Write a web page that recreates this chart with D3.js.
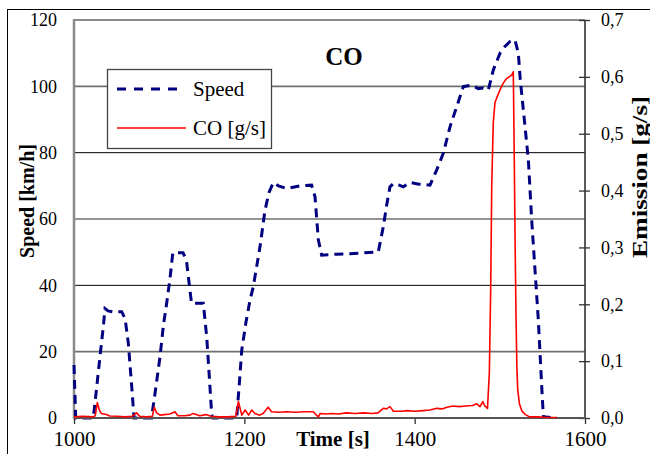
<!DOCTYPE html>
<html><head><meta charset="utf-8">
<script src="https://cdn.jsdelivr.net/npm/d3@7/dist/d3.min.js"></script>
<style>body{margin:0;background:#fff}svg{display:block}text{font-family:"Liberation Serif","Times New Roman",serif}</style>
</head><body>
<svg id="c" width="650" height="454"></svg>
<script>
const speedTime = [1000,1002,1022.7,1026.7,1030.5,1034.4,1036.4,1040,1046,1056,1060,1063.8,1067.8,1070.5,1091,1096,1101,1105,1108.8,1112.7,1116,1128,1132,1135,1138,1151.8,1155.8,1159,1161.7,1163,1191,1194,1197,1202,1206.7,1210.5,1218.4,1224.3,1229,1234,1240,1249.8,1265,1279,1283,1286.9,1290.8,1308.4,1324,1340,1357.3,1363.2,1367,1371,1375,1381,1386.7,1394.5,1405,1418,1425.9,1433.6,1441.5,1449.4,1457.1,1467,1474.7,1480,1486.5,1492.3,1500.2,1506,1511.9,1517.8,1521.7,1524,1527.6,1533.5,1537.4,1541.3,1545.2,1549.2,1551.1,1567];
const speedValues = [16,0,0,9.4,18.5,27.5,33,32.3,32,32,30,22.5,9.4,0,0,9,18.5,28,34.6,42,49.8,49.8,47.6,41,34.6,34.6,24.5,12,1,0,0,10,20.5,29,35.6,39.6,51.6,62.7,68,71,70,69.2,70,70.2,66.7,53.7,49.1,49.4,49.5,49.8,50.1,57.7,64,69.7,70.7,70.3,69.7,71,70.5,70.2,74.8,79.8,87.8,93.9,99.9,100.4,99.3,99.5,98.9,104.9,110,112,113.5,114,110,102,92.9,77.8,59.7,44.6,29.5,9.4,0.4,0];
const coTime = [1000,1010,1022,1025,1027.4,1029.7,1032,1038,1042,1050,1060,1068,1073.6,1077,1085,1092,1094.3,1097,1101,1106,1112.7,1118.6,1122,1130,1136,1140,1147.6,1155,1161,1170,1180,1190,1193,1197,1201,1205,1208.6,1212.5,1218,1222,1228,1232,1240,1250,1260,1270,1281,1284,1287,1289,1296,1303,1310,1320,1330,1340,1350,1357,1363,1367,1371,1375,1385,1391,1400,1410,1418,1426,1432,1438,1445,1452,1460,1468,1473,1476.7,1480,1482,1485.5,1487.7,1489.3,1490.5,1492.3,1494.3,1498.2,1500.2,1504,1508,1514,1515.8,1517,1518,1519,1520,1521,1523,1526,1530,1535,1545,1555,1567];
const coValues = [0.002,0.003,0.002,0.004,0.027,0.014,0.008,0.006,0.0035,0.003,0.002,0.003,0.009,0.003,0.002,0.003,0.019,0.009,0.005,0.006,0.007,0.011,0.004,0.004,0.005,0.008,0.004,0.006,0.003,0.002,0.002,0.003,0.029,0.005,0.014,0.005,0.014,0.008,0.005,0.008,0.019,0.011,0.010,0.011,0.010,0.011,0.011,0.006,0.002,0.008,0.007,0.008,0.007,0.009,0.008,0.009,0.008,0.009,0.017,0.016,0.020,0.012,0.012,0.013,0.012,0.013,0.014,0.017,0.016,0.019,0.021,0.020,0.021,0.022,0.025,0.020,0.029,0.022,0.017,0.08,0.23,0.41,0.52,0.555,0.57,0.577,0.589,0.597,0.603,0.609,0.45,0.30,0.18,0.09,0.05,0.025,0.012,0.006,0.002,0.002,0.001,0.001];
const xTicks = [1000,1200,1400,1600];
const speedTicks = [0,20,40,60,80,100,120];
const emissionTicks = [0,0.1,0.2,0.3,0.4,0.5,0.6,0.7];
const title = "CO";
const seriesNames = ["Speed","CO [g/s]"];

const svg = d3.select("#c");
const L=74,R=585,T=20,B=418;
const x = d3.scaleLinear().domain([1000,1600]).range([L,R]);
const yL = d3.scaleLinear().domain([0,120]).range([B,T]);
const yR = d3.scaleLinear().domain([0,0.7]).range([B,T]);

// outer frame
svg.append("rect").attr("x",7.5).attr("y",9.5).attr("width",700).attr("height",500).attr("fill","none").attr("stroke","#000").attr("stroke-width",1);

// gridlines
svg.append("g").selectAll("line").data(speedTicks.filter(d=>d>0&&d<120)).join("line")
  .attr("x1",L).attr("x2",R).attr("y1",d=>yL(d)).attr("y2",d=>yL(d))
  .attr("stroke",(d,i)=> (d/20)%2===0 ? "#000" : "#707070").attr("stroke-width",(d)=> (d/20)%2===0 ? 1 : 1.6);

// top border
svg.append("line").attr("x1",L).attr("x2",R).attr("y1",T).attr("y2",T).attr("stroke","#8a8a8a").attr("stroke-width",2);

// left axis
const gl = svg.append("g").attr("transform",`translate(${L},0)`)
  .call(d3.axisLeft(yL).tickValues(speedTicks).tickSize(0).tickPadding(17));
gl.select(".domain").remove();
gl.selectAll("text").attr("font-size",18).attr("fill","#000").style("font-family","Liberation Serif");

// right axis
const gr = svg.append("g").attr("transform",`translate(${R},0)`)
  .call(d3.axisRight(yR).tickValues(emissionTicks).tickSize(5).tickPadding(11).tickFormat(d=>d.toFixed(1).replace(".",",")));
gr.select(".domain").remove();
gr.selectAll(".tick line").attr("x1",-6).attr("x2",5).attr("stroke","#333").attr("stroke-width",1.3);
gr.selectAll("text").attr("font-size",18).attr("fill","#000").style("font-family","Liberation Serif");
svg.append("line").attr("x1",R).attr("x2",R).attr("y1",T).attr("y2",B).attr("stroke","#333").attr("stroke-width",1.6);

// bottom axis
const gb = svg.append("g").attr("transform",`translate(0,${B})`)
  .call(d3.axisBottom(x).tickValues(xTicks).tickSize(6).tickPadding(7).tickFormat(d3.format("d")));
gb.select(".domain").remove();
gb.selectAll(".tick line").attr("stroke","#333").attr("stroke-width",1.3);
gb.selectAll("text").attr("font-size",21).attr("fill","#000").style("font-family","Liberation Serif");

// left axis line
svg.append("line").attr("x1",L).attr("x2",L).attr("y1",T-1).attr("y2",B+1).attr("stroke","#8a8a8a").attr("stroke-width",2.5);

// data lines
const speedData = speedTime.map((t,i)=>[t,speedValues[i]]);
const coData = coTime.map((t,i)=>[t,coValues[i]]);
svg.append("path").datum(speedData)
  .attr("d",d3.line().x(d=>x(d[0])).y(d=>yL(d[1])))
  .attr("fill","none").attr("stroke","#000080").attr("stroke-width",3).attr("stroke-dasharray","9,6");
// bottom axis line
svg.append("line").attr("x1",L).attr("x2",R).attr("y1",B).attr("y2",B).attr("stroke","#555").attr("stroke-width",2);
svg.append("path").datum(coData)
  .attr("d",d3.line().x(d=>x(d[0])).y(d=>yR(d[1])))
  .attr("fill","none").attr("stroke","#ff0000").attr("stroke-width",1.6).attr("stroke-linejoin","round");

// title
svg.append("text").attr("x",344).attr("y",65).attr("text-anchor","middle").attr("font-size",25).attr("font-weight","bold").text(title);

// axis titles
svg.append("text").attr("transform","translate(34,201) rotate(-90)").attr("text-anchor","middle").attr("font-size",20).attr("font-weight","bold").text("Speed [km/h]");
svg.append("text").attr("transform","translate(647,177) rotate(-90)").attr("text-anchor","middle").attr("font-size",20).attr("font-weight","bold")
  .attr("textLength",162).attr("lengthAdjust","spacingAndGlyphs").text("Emission [g/s]");
svg.append("text").attr("x",333).attr("y",446).attr("text-anchor","middle").attr("font-size",21).attr("font-weight","bold").text("Time [s]");

// legend
const lg = svg.append("g");
lg.append("rect").attr("x",107.5).attr("y",69.5).attr("width",164).attr("height",79).attr("fill","#fff").attr("stroke","#444").attr("stroke-width",1.3);
lg.append("line").attr("x1",117).attr("x2",182).attr("y1",89).attr("y2",89).attr("stroke","#000080").attr("stroke-width",3).attr("stroke-dasharray","9,8");
lg.append("line").attr("x1",117).attr("x2",186).attr("y1",128).attr("y2",128).attr("stroke","#ff0000").attr("stroke-width",1.6);
lg.append("text").attr("x",193).attr("y",96).attr("font-size",21).text(seriesNames[0]);
lg.append("text").attr("x",193).attr("y",135).attr("font-size",21).text(seriesNames[1]);
</script>
</body></html>
